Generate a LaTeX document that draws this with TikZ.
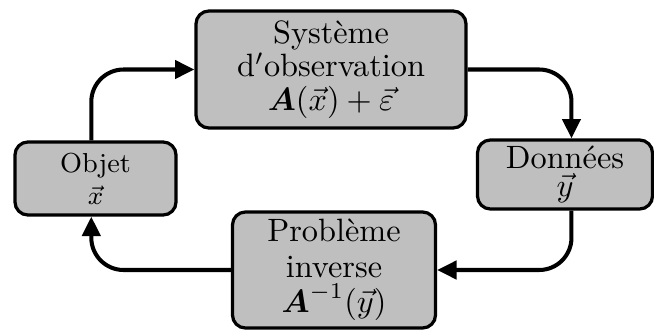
\documentclass[tikz,border=0pt]{standalone}
\usepackage{amsmath}
\usetikzlibrary{arrows.meta}
\begin{document}
\begin{tikzpicture}[x=0.3096pt,y=-0.3096pt,
  box/.style={draw=black,line width=1pt,fill=black!25,rounded corners=4pt,
    align=center,inner sep=0pt},
  arr/.style={line width=1.25pt,rounded corners=10pt,
    -{Triangle[length=6pt,width=5.6pt]}}]
\useasboundingbox (0,0) rectangle (654,334);
\node[box,minimum width={270*0.3096pt},minimum height={117*0.3096pt},
  font=\fontsize{10}{10.3}\selectfont] (sys) at (331,69.5)
  {Système\\d$'$observation\\$\boldsymbol{A}(\vec{x})+\vec{\varepsilon}$};
\node[box,minimum width={161*0.3096pt},minimum height={73*0.3096pt},
  font=\fontsize{8.5}{9.9}\selectfont] (obj) at (95.5,178.5)
  {Objet\\$\vec{x}$};
\node[box,minimum width={175*0.3096pt},minimum height={69*0.3096pt},
  font=\fontsize{10}{8.8}\selectfont] (don) at (565,174.5)
  {Données\\$\vec{y}$};
\node[box,minimum width={203*0.3096pt},minimum height={116*0.3096pt},
  font=\fontsize{10}{11}\selectfont] (prob) at (334,270)
  {Problème\\inverse\\$\boldsymbol{A}^{-1}(\vec{y})$};
\draw[arr] ([xshift=-1.3pt]obj.north) |- (sys.west);
\draw[arr] (sys.east) -| ([xshift=2pt]don.north);
\draw[arr] ([xshift=2pt]don.south) |- (prob.east);
\draw[arr] (prob.west) -| ([xshift=-1.3pt]obj.south);
\end{tikzpicture}
\end{document}
